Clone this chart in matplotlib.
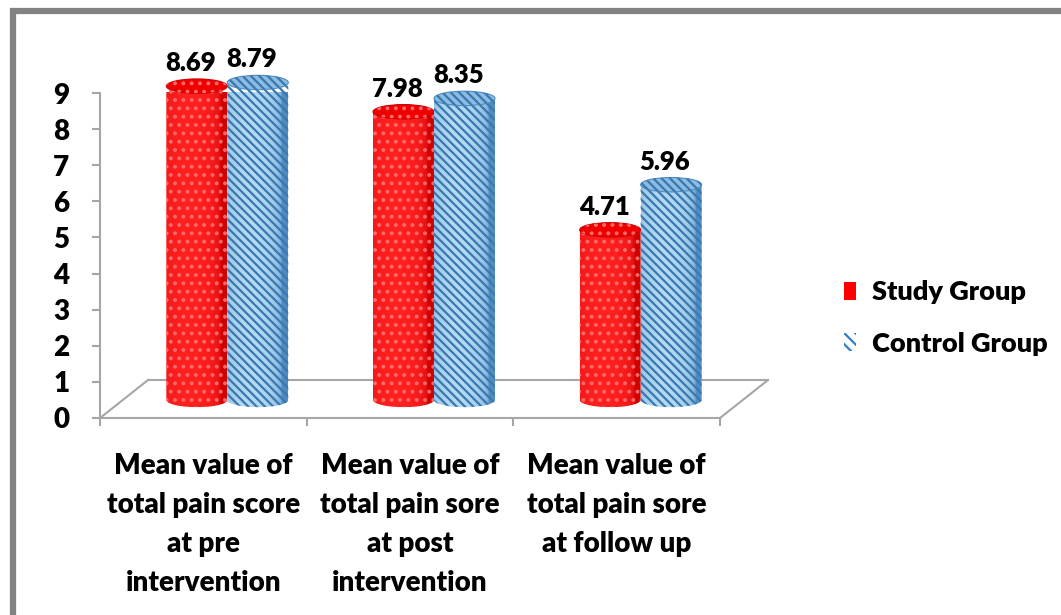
import numpy as np
import matplotlib
matplotlib.use("Agg")
import matplotlib.pyplot as plt
from matplotlib.patches import Ellipse, PathPatch, Patch
from matplotlib.path import Path
from matplotlib.lines import Line2D

# ---------------- data ----------------
categories = [
    "Mean value of\ntotal pain score\nat pre\nintervention",
    "Mean value of\ntotal pain sore\nat post\nintervention",
    "Mean value of\ntotal pain sore\nat follow up",
]
series_names = ["Study Group", "Control Group"]
study_values = [8.69, 7.98, 4.71]
control_values = [8.79, 8.35, 5.96]
y_ticks = [0, 1, 2, 3, 4, 5, 6, 7, 8, 9]

# ---------------- style ----------------
FONT = ['Lato', 'DejaVu Sans']
WT = 'heavy'
plt.rcParams['font.family'] = FONT
plt.rcParams['font.weight'] = WT
plt.rcParams['hatch.linewidth'] = 1.6

W, H = 1061, 615
fig = plt.figure(figsize=(W / 100, H / 100), dpi=100)
fig.patch.set_facecolor('white')

# outer gray frame (only top and left are visible)
frame_c = '#828282'
fig.add_artist(Line2D([10 / W, 1.0], [1 - 11 / H, 1 - 11 / H], color=frame_c, lw=4.5,
                      transform=fig.transFigure, solid_capstyle='butt'))
fig.add_artist(Line2D([12.5 / W, 12.5 / W], [0, 1 - 9 / H], color=frame_c, lw=4.5,
                      transform=fig.transFigure, solid_capstyle='butt'))

ax = fig.add_axes([100 / W, 197 / H, 620 / W, 325 / H])
ax.patch.set_alpha(0)

axis_c = '#A6A6A6'
for s in ['top', 'right']:
    ax.spines[s].set_visible(False)
for s in ['left', 'bottom']:
    ax.spines[s].set_color(axis_c)
    ax.spines[s].set_linewidth(1.5)

ax.set_yticks(y_ticks)
ax.set_yticklabels([str(t) for t in y_ticks], fontsize=20, fontweight=WT)
ax.tick_params(axis='y', direction='out', length=6, width=1.5, color=axis_c, pad=16)
ax.set_xticks([0, 1, 2, 3])
ax.set_xticklabels([])
ax.tick_params(axis='x', which='major', direction='out', length=6, width=1.5, color=axis_c)
ax.set_xticks([0.5, 1.5, 2.5], minor=True)
ax.set_xticklabels(categories, minor=True, fontsize=20, fontweight=WT,
                   linespacing=1.62, va='top')
ax.tick_params(axis='x', which='minor', length=0, pad=25)

# floor (3D depth)
dx, dy = 0.232, 1.05
floor_kw = dict(color=axis_c, lw=1.5, clip_on=False, zorder=1)
ax.plot([0, dx], [0, dy], **floor_kw)
ax.plot([dx, 3 + dx], [dy, dy], **floor_kw)
ax.plot([3, 3 + dx], [0, dy], **floor_kw)

# cylinders
bw = 0.295
base = 0.5
eh = 0.40
n = len(categories)
centers = np.arange(n) + 0.5 + dx / 2

styles = [
    dict(grad=('#D00000', '#FF2020'), top='#EE0000', hatch='..', hcol='#FF6A6A'),
    dict(grad=('#4F8CC0', '#B4DAF4'), top='#8CBCE2', hatch='\\\\\\\\', hcol='#3A78B0'),
]


def cylinder(xc, v, st, z):
    x0, x1 = xc - bw / 2, xc + bw / 2
    top = base + v
    th = np.linspace(np.pi, 2 * np.pi, 60)
    arc = np.column_stack([xc + bw / 2 * np.cos(th), base + eh / 2 * np.sin(th)])
    verts = np.vstack([[x0, top], arc, [x1, top], [x0, top]])
    codes = [Path.MOVETO] + [Path.LINETO] * (len(verts) - 2) + [Path.CLOSEPOLY]
    path = Path(verts, codes)
    clip = PathPatch(path, facecolor='none', edgecolor='none', transform=ax.transData,
                     clip_on=False)
    ax.add_patch(clip)
    # horizontal shading gradient
    t = np.linspace(-1, 1, 200)
    k = np.sqrt(np.clip(1 - (t + 0.2) ** 2, 0, 1)) ** 0.6
    c0 = np.array(matplotlib.colors.to_rgb(st['grad'][0]))
    c1 = np.array(matplotlib.colors.to_rgb(st['grad'][1]))
    img = (c0[None, :] + (c1 - c0)[None, :] * k[:, None])[None, :, :]
    im = ax.imshow(img, extent=[x0, x1, base - eh / 2, top], aspect='auto',
                   interpolation='bilinear', zorder=z, origin='lower')
    im.set_clip_box(None)
    im.set_clip_path(clip)
    ax.add_patch(PathPatch(path, facecolor='none', edgecolor=st['hcol'], lw=0,
                           hatch=st['hatch'], zorder=z + 0.1, clip_on=False))
    ax.add_patch(Ellipse((xc, top), bw, eh, facecolor=st['top'], edgecolor=st['grad'][0],
                         lw=0.8, zorder=z + 0.2, clip_on=False))
    ax.add_patch(Ellipse((xc, top), bw, eh, facecolor='none', edgecolor=st['hcol'], lw=0,
                         hatch=st['hatch'], zorder=z + 0.25, clip_on=False))
    ax.text(xc - 0.03, top + eh / 2 + 0.22, f"{v:.2f}", ha='center', va='baseline',
            fontsize=18.5, fontweight=WT, zorder=10)


for i in range(n):
    cylinder(centers[i] - bw / 2, study_values[i], styles[0], 3)
    cylinder(centers[i] + bw / 2, control_values[i], styles[1], 4)

ax.set_xlim(0, 3)
ax.set_ylim(0, 9)

# legend
handles = [
    Patch(facecolor='#FF0000', edgecolor='none'),
    Patch(facecolor='white', edgecolor='#2F7FC8', hatch='\\\\\\', lw=0),
]
fig.legend(handles, series_names, loc='center left',
           bbox_to_anchor=(820 / W, 1 - 318 / H), frameon=False,
           prop=dict(family=FONT, weight=WT, size=19.5),
           handlelength=0.42, handleheight=0.6, handletextpad=0.6, labelspacing=1.0)

fig.savefig('out.png', dpi=100)
